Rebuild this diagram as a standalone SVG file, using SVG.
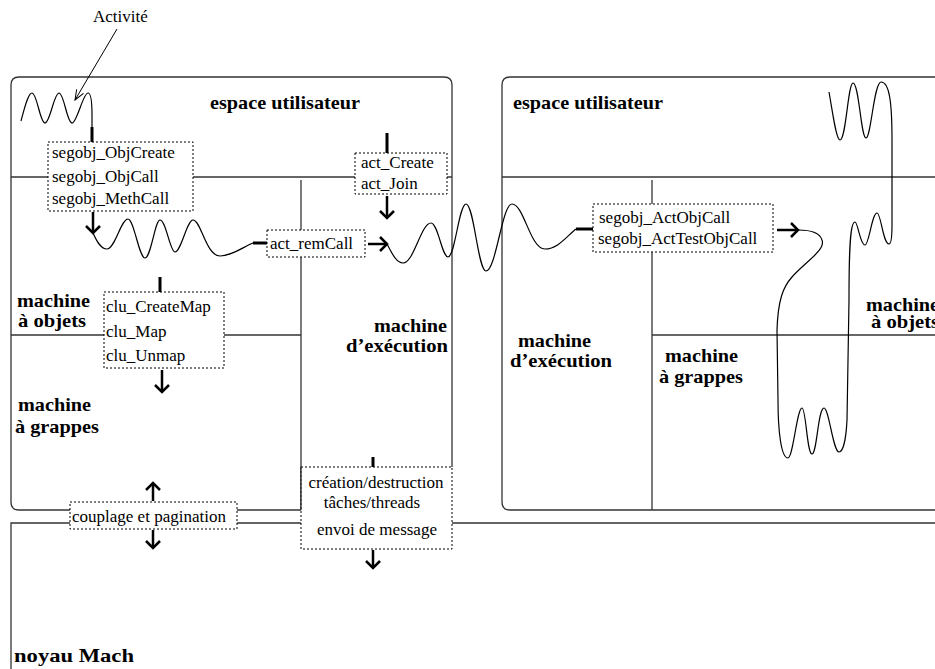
<svg xmlns="http://www.w3.org/2000/svg" width="935" height="669" viewBox="0 0 935 669">
<style>
.frame{fill:none;stroke:#333;stroke-width:1.3}
.box{fill:#fff;stroke:#000;stroke-width:1;stroke-dasharray:2 2}
.t{font-family:"Liberation Serif","Times New Roman",serif;font-size:17px;fill:#000}
.b{font-family:"Liberation Serif","Times New Roman",serif;font-size:19px;font-weight:bold;fill:#000}
.wave{fill:none;stroke:#000;stroke-width:1.2}
.stub{fill:none;stroke:#000;stroke-width:3}
.arr{fill:none;stroke:#000;stroke-width:2.5;marker-end:url(#v)}
</style>
<defs>
<marker id="v" markerUnits="userSpaceOnUse" viewBox="-12 -12 24 24" markerWidth="24" markerHeight="24" refX="0" refY="0" orient="auto" overflow="visible">
<path d="M-7,-7 L0,0 L-7,7" fill="none" stroke="#000" stroke-width="2.5"/>
</marker>
<marker id="thin" markerUnits="userSpaceOnUse" viewBox="-12 -12 24 24" markerWidth="24" markerHeight="24" refX="0" refY="0" orient="auto" overflow="visible">
<path d="M-10,-4 L0,0 L-10,4" fill="none" stroke="#000" stroke-width="1"/>
</marker>
</defs>
<rect width="935" height="669" fill="#fff"/>

<g id="frames">
<path class="frame" d="M19,510 Q11,510 11,502 L11,85 Q11,77 19,77 L444,77 Q452,77 452,85 L452,467"/>
<line class="frame" x1="19" y1="510" x2="301" y2="510"/>
<line class="frame" x1="11" y1="177" x2="452" y2="177"/>
<line class="frame" x1="301" y1="180" x2="301" y2="510"/>
<line class="frame" x1="11" y1="335" x2="301" y2="335"/>
<path class="frame" d="M940,77 L510,77 Q502,77 502,85 L502,502 Q502,510 510,510 L940,510"/>
<line class="frame" x1="502" y1="177" x2="940" y2="177"/>
<line class="frame" x1="652" y1="180" x2="652" y2="510"/>
<line class="frame" x1="652" y1="335" x2="940" y2="335"/>
<path class="frame" d="M11,672 L11,523 L940,523"/>
</g>

<g id="connectors">
<line x1="117" y1="29" x2="75" y2="100" stroke="#000" stroke-width="1" marker-end="url(#thin)"/>
<path class="wave" d="M21,121 C24,110 28,93 32,93 C37,93 40,123 45,123 C50,123 54,93 59,93 C64,93 67,123 72,123 C77,123 83,93 88,93 C91,93 92,105 92,115 L92,128"/>
<line class="stub" x1="92" y1="127" x2="92" y2="142"/>
<line class="arr" x1="93" y1="212" x2="93" y2="233"/>
<path class="wave" d="M93,233 C97,242 101,249 107,249 C115,249 121,219 128,219 C134,219 139,258 145,258 C151,258 155,220 160,220 C166,220 170,252 175,252 C181,252 187,220 193,220 C201,220 206,256 220,256 C232,256 243,247 253,243"/>
<line class="stub" x1="253" y1="243" x2="268" y2="243"/>
<line class="arr" x1="368" y1="244" x2="387" y2="244"/>
<path class="wave" d="M387,244 C392,253 396,263 403,263 C414,263 421,223 431,223 C438,223 442,257 448,257 C455,257 459,204 466,204 C474,204 478,271 486,271 C496,271 502,204 512,204 C524,204 530,249 545,249 C558,249 567,236 576,229"/>
<line class="stub" x1="576" y1="229" x2="593" y2="229"/>
<line class="arr" x1="777" y1="230" x2="798" y2="230"/>
<path class="wave" d="M829,92 C832,108 836,140 840,140 C846,140 848,83 853,83 C859,83 861,138 866,138 C871,138 874,82 881,82 C889,82 892,100 892,140 L892,225 C892,238 891,244 889,244 C883,244 881,213 877,213 C872,213 869,245 865,245 C860,245 858,222 855,222 C850,222 849,250 849,300 L847,420 C846,440 843,452 839,452 C833,452 829,408 824,408 C818,408 817,454 812,454 C807,454 806,408 802,408 C797,408 793,458 788,458 C781,458 778,430 778,400 L777,330 C778,300 783,287 792,277 C805,262 826,250 822,240 C820,233 810,230 798,230"/>
<line class="stub" x1="387" y1="133" x2="387" y2="153"/>
<line class="arr" x1="387" y1="196" x2="387" y2="218"/>
<line class="stub" x1="160" y1="277" x2="160" y2="292"/>
<line class="arr" x1="162" y1="370" x2="162" y2="392"/>
<line class="arr" x1="153" y1="501" x2="153" y2="483"/>
<line class="arr" x1="153" y1="530" x2="153" y2="548"/>
<line class="stub" x1="373" y1="457" x2="373" y2="467"/>
<line class="arr" x1="373" y1="550" x2="373" y2="568"/>
</g>

<g id="labels">
<text class="t" x="93" y="22" font-size="16">Activité</text>
<text class="b" x="210" y="109" font-size="20" textLength="150" lengthAdjust="spacingAndGlyphs">espace utilisateur</text>
<text class="b" x="513" y="109" font-size="20" textLength="150" lengthAdjust="spacingAndGlyphs">espace utilisateur</text>
<text class="b" x="17" y="307" textLength="73" lengthAdjust="spacingAndGlyphs">machine</text>
<text class="b" x="18" y="327" font-size="16" textLength="68" lengthAdjust="spacingAndGlyphs">à objets</text>
<text class="b" x="18" y="411" textLength="73" lengthAdjust="spacingAndGlyphs">machine</text>
<text class="b" x="15" y="433" textLength="84" lengthAdjust="spacingAndGlyphs">à grappes</text>
<text class="b" x="374" y="332" textLength="73" lengthAdjust="spacingAndGlyphs">machine</text>
<text class="b" x="346" y="352" textLength="102" lengthAdjust="spacingAndGlyphs">d’exécution</text>
<text class="b" x="518" y="347" textLength="73" lengthAdjust="spacingAndGlyphs">machine</text>
<text class="b" x="510" y="367" textLength="102" lengthAdjust="spacingAndGlyphs">d’exécution</text>
<text class="b" x="665" y="362" textLength="73" lengthAdjust="spacingAndGlyphs">machine</text>
<text class="b" x="659" y="383" textLength="84" lengthAdjust="spacingAndGlyphs">à grappes</text>
<text class="b" x="866" y="311" textLength="73" lengthAdjust="spacingAndGlyphs">machine</text>
<text class="b" x="871" y="328" font-size="16" textLength="68" lengthAdjust="spacingAndGlyphs">à objets</text>
<text class="b" x="14" y="662" font-size="21" textLength="120" lengthAdjust="spacingAndGlyphs">noyau Mach</text>
</g>

<g id="segobj">
<rect class="box" x="48" y="142" width="145" height="69"/>
<text class="t" x="52" y="158">segobj_ObjCreate</text>
<text class="t" x="52" y="182">segobj_ObjCall</text>
<text class="t" x="52" y="204">segobj_MethCall</text>
</g>
<g id="act-create">
<rect class="box" x="355" y="153" width="92" height="41"/>
<text class="t" x="361" y="168">act_Create</text>
<text class="t" x="361" y="189">act_Join</text>
</g>
<g id="act-remcall">
<rect class="box" x="267" y="230" width="98" height="27"/>
<text class="t" x="270" y="249">act_remCall</text>
</g>
<g id="segobj-act">
<rect class="box" x="593" y="204" width="180" height="48"/>
<text class="t" x="599" y="223">segobj_ActObjCall</text>
<text class="t" x="598" y="244">segobj_ActTestObjCall</text>
</g>
<g id="clu">
<rect class="box" x="104" y="292" width="120" height="76"/>
<text class="t" x="106" y="312">clu_CreateMap</text>
<text class="t" x="106" y="337">clu_Map</text>
<text class="t" x="106" y="361">clu_Unmap</text>
</g>
<g id="couplage">
<rect class="box" x="70" y="502" width="167" height="27"/>
<text class="t" x="72" y="522">couplage et pagination</text>
</g>
<g id="creation">
<rect class="box" x="301" y="467" width="151" height="82"/>
<line x1="301" y1="467" x2="301" y2="510" stroke="#333" stroke-width="1.3"/>
<text class="t" x="376" y="488" text-anchor="middle">création/destruction</text>
<text class="t" x="372" y="508" text-anchor="middle">tâches/threads</text>
<text class="t" x="377" y="535" text-anchor="middle">envoi de message</text>
</g>
</svg>
